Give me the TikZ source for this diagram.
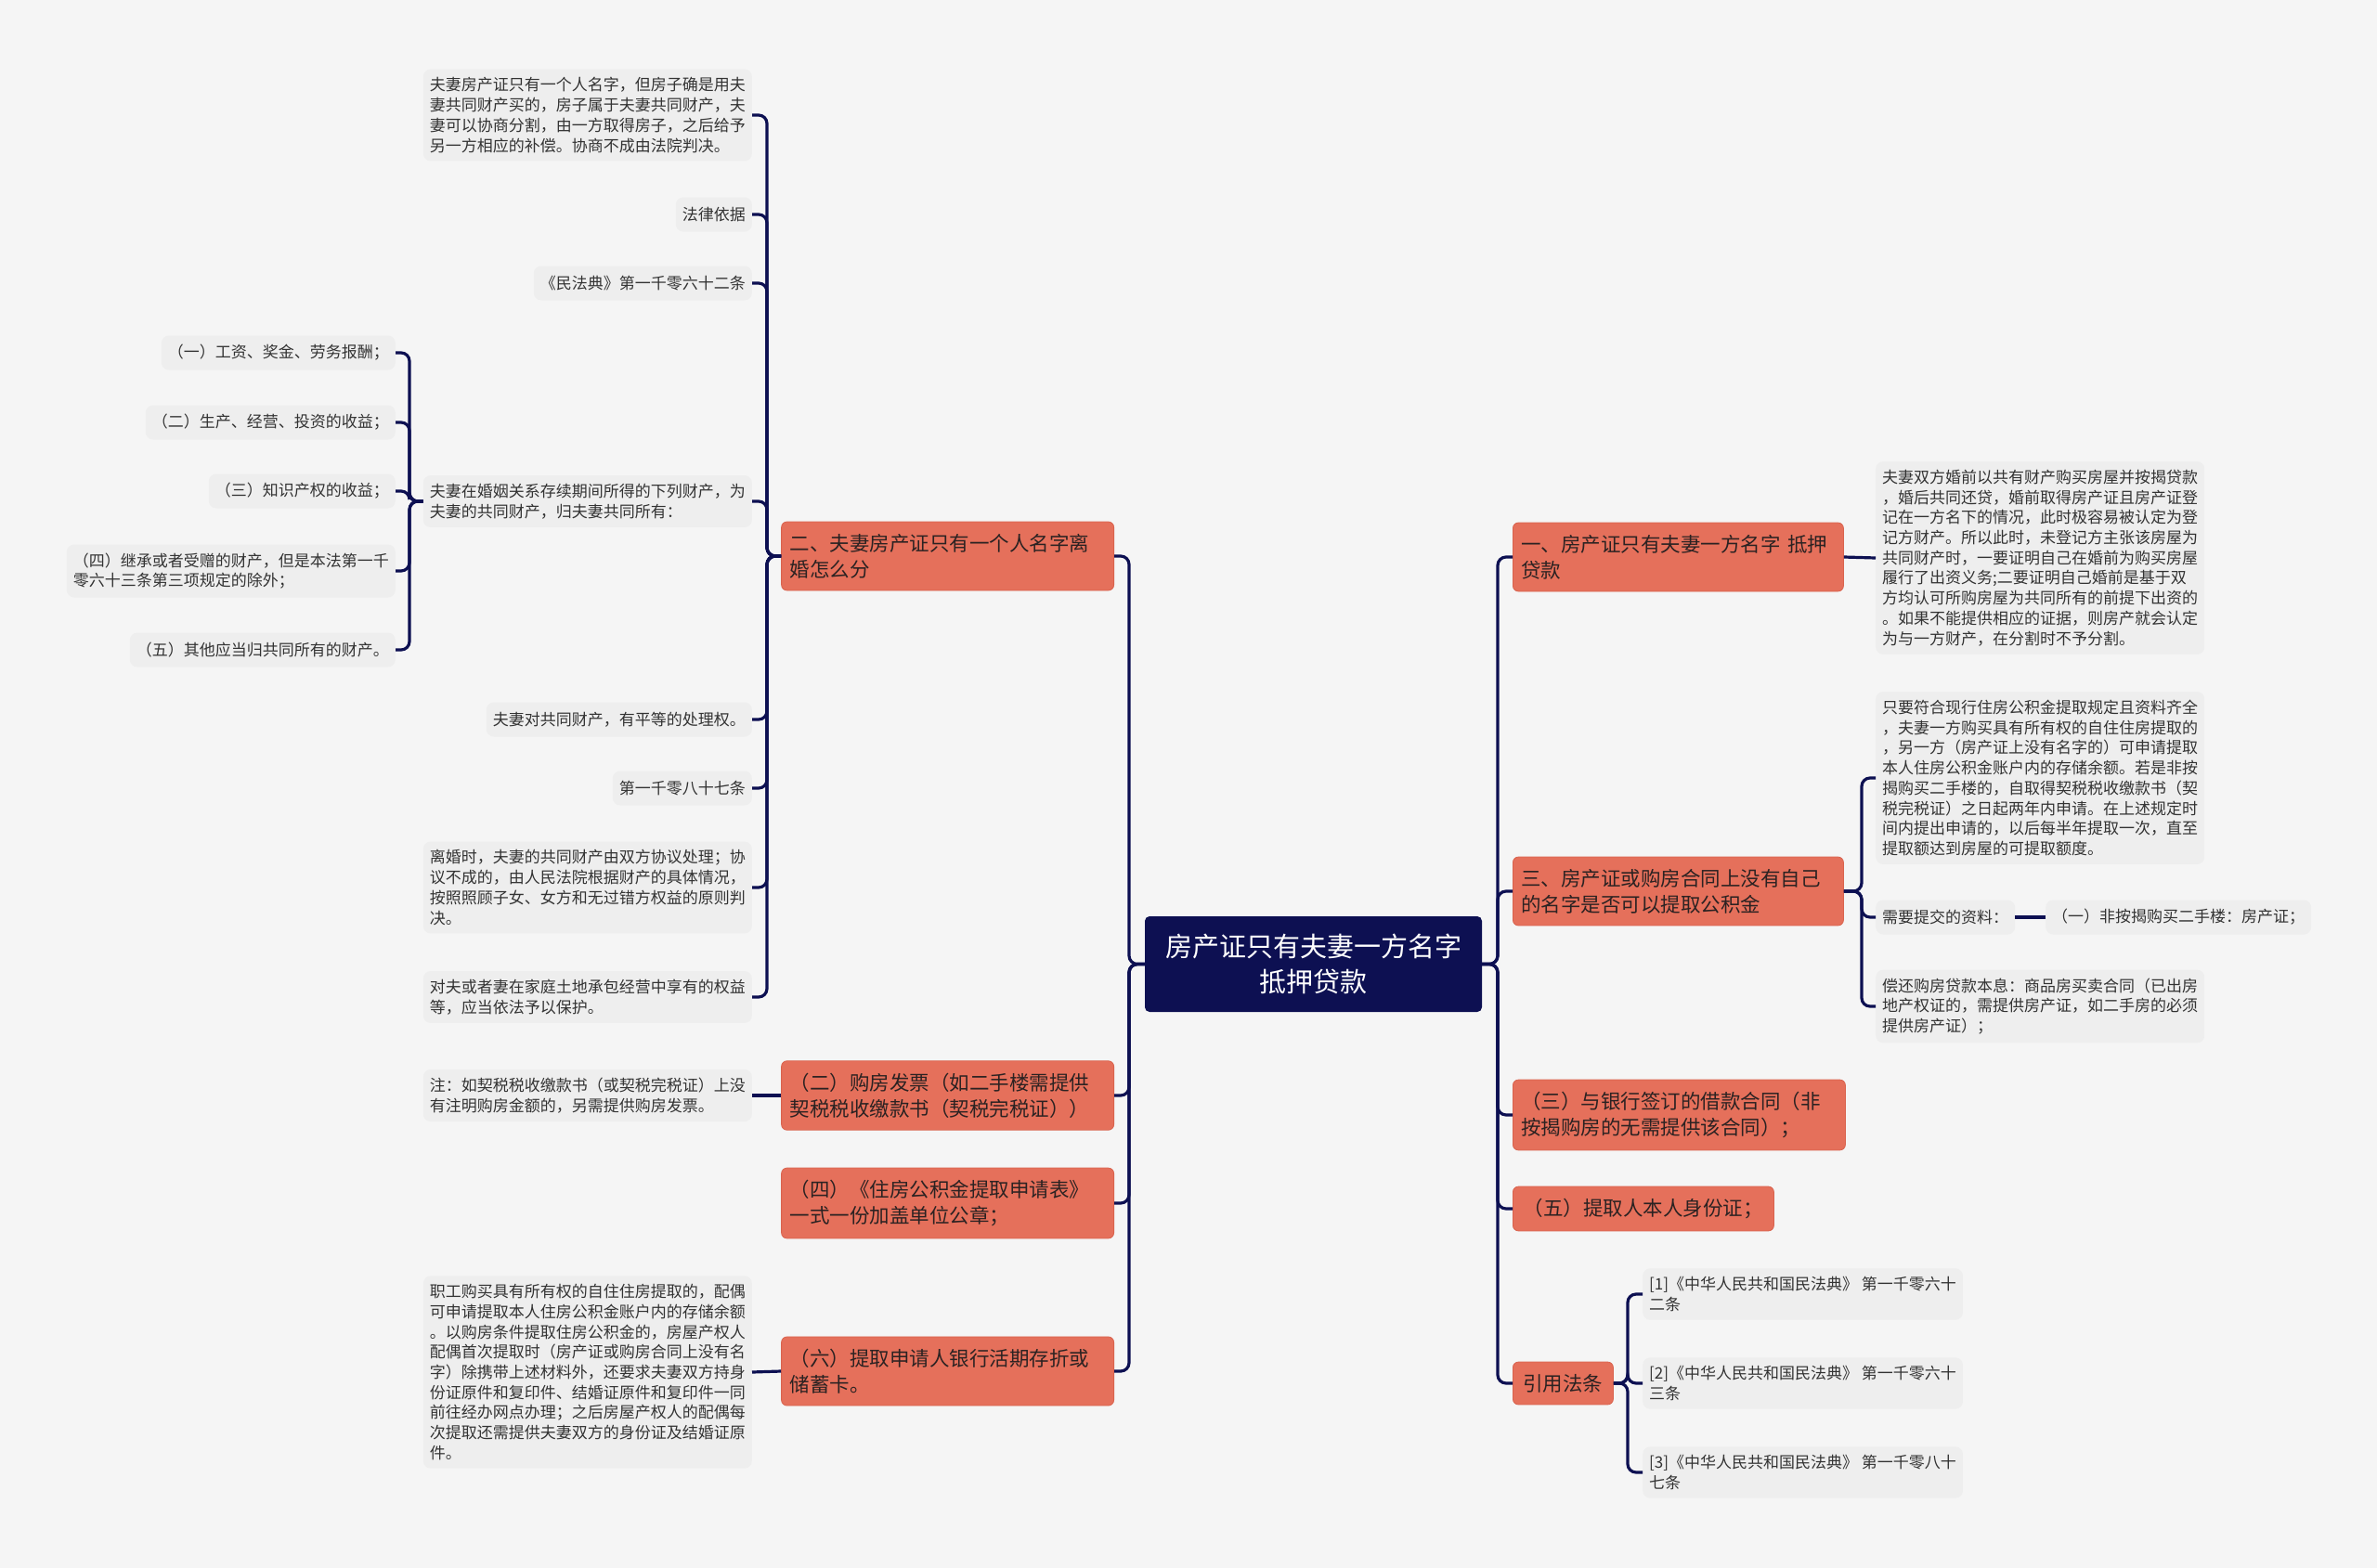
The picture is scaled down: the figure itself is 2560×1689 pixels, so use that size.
\documentclass[tikz,border=0pt]{standalone}
\usepackage{fontspec}
\newfontfamily\cjk{Noto Sans CJK SC}
\definecolor{navy}{HTML}{0D1052}
\definecolor{bgc}{HTML}{F5F5F5}
\definecolor{leafc}{HTML}{EEEEEE}
\definecolor{orng}{HTML}{E5705B}
\definecolor{orngd}{HTML}{D9634E}
\definecolor{txtg}{HTML}{333333}
\definecolor{txtd}{HTML}{2B2222}
\tikzset{
  conn/.style={draw=navy, line width=3.2pt, rounded corners=9pt},
  rootbox/.style={fill=navy, rounded corners=5pt, text=white, font={\cjk\fontsize{29}{38}\selectfont}, align=center, inner sep=0pt, minimum width=363pt, minimum height=103pt},
  branch/.style={fill=orng, draw=orngd, line width=0.8pt, rounded corners=6pt, font={\cjk\fontsize{21.5}{28}\selectfont}, text=txtd, align=left, inner xsep=9pt, inner ysep=13pt},
  branchw/.style={branch, text width=340pt},
  leaf/.style={fill=leafc, rounded corners=8pt, font={\cjk\fontsize{17}{21.7}\selectfont}, text=txtg, align=left, inner xsep=7pt, inner ysep=9pt, minimum height=37pt},
}
\begin{document}
\begin{tikzpicture}[x=1pt,y=-1pt]
\useasboundingbox (0,0) rectangle (2560,1689);
\fill[bgc] (0,0) rectangle (2560,1689);

% trunk coordinates
\coordinate (tL) at (1216,0);
\coordinate (tL1) at (826,0);
\coordinate (tA4) at (441,0);
\coordinate (tR) at (1613,0);
\coordinate (tR2) at (2005,0);
\coordinate (tR5) at (1753,0);

% root
\node[rootbox] (root) at (1414.5,1038.5) {房产证只有夫妻一方名字\\抵押贷款};

% left branches
\node[branchw, anchor=east] (L1) at (1200,599) {二、夫妻房产证只有一个人名字离\\婚怎么分};
\node[branchw, anchor=east] (L2) at (1200,1180) {（二）购房发票（如二手楼需提供\\契税税收缴款书（契税完税证））};
\node[branchw, anchor=east] (L3) at (1200,1296) {（四）《住房公积金提取申请表》\\一式一份加盖单位公章；};
\node[branchw, anchor=east] (L4) at (1200,1477) {（六）提取申请人银行活期存折或\\储蓄卡。};

% right branches
\node[branch, text width=338pt, anchor=west] (R1) at (1629,600) {一、房产证只有夫妻一方名字 抵押\\贷款};
\node[branch, text width=338pt, anchor=west] (R2) at (1629,960) {三、房产证或购房合同上没有自己\\的名字是否可以提取公积金};
\node[branchw, anchor=west] (R3) at (1629,1201) {（三）与银行签订的借款合同（非\\按揭购房的无需提供该合同）；};
\node[branch, anchor=west, minimum width=281pt] (R4) at (1629,1302) {（五）提取人本人身份证；};
\node[branch, anchor=west, minimum width=108pt] (R5) at (1629,1490) {引用法条};

% L1 leaves
\node[leaf, anchor=east] (A1) at (810,124) {夫妻房产证只有一个人名字，但房子确是用夫\\妻共同财产买的，房子属于夫妻共同财产，夫\\妻可以协商分割，由一方取得房子，之后给予\\另一方相应的补偿。协商不成由法院判决。};
\node[leaf, anchor=east] (A2) at (810,231) {法律依据};
\node[leaf, anchor=east] (A3) at (810,305) {《民法典》第一千零六十二条};
\node[leaf, anchor=east] (A4) at (810,540) {夫妻在婚姻关系存续期间所得的下列财产，为\\夫妻的共同财产，归夫妻共同所有：};
\node[leaf, anchor=east] (A5) at (810,775) {夫妻对共同财产，有平等的处理权。};
\node[leaf, anchor=east] (A6) at (810,849) {第一千零八十七条};
\node[leaf, anchor=east] (A7) at (810,956) {离婚时，夫妻的共同财产由双方协议处理；协\\议不成的，由人民法院根据财产的具体情况，\\按照照顾子女、女方和无过错方权益的原则判\\决。};
\node[leaf, anchor=east] (A8) at (810,1074) {对夫或者妻在家庭土地承包经营中享有的权益\\等，应当依法予以保护。};

% A4 leaves
\node[leaf, anchor=east] (B1) at (426,380) {（一）工资、奖金、劳务报酬；};
\node[leaf, anchor=east] (B2) at (426,455) {（二）生产、经营、投资的收益；};
\node[leaf, anchor=east] (B3) at (426,529) {（三）知识产权的收益；};
\node[leaf, anchor=east] (B4) at (426,615) {（四）继承或者受赠的财产，但是本法第一千\\零六十三条第三项规定的除外；};
\node[leaf, anchor=east] (B5) at (426,700) {（五）其他应当归共同所有的财产。};

% L2, L4 leaves
\node[leaf, anchor=east] (E1) at (810,1180) {注：如契税税收缴款书（或契税完税证）上没\\有注明购房金额的，另需提供购房发票。};
\node[leaf, anchor=east] (E2) at (810,1478) {职工购买具有所有权的自住住房提取的，配偶\\可申请提取本人住房公积金账户内的存储余额\\。以购房条件提取住房公积金的，房屋产权人\\配偶首次提取时（房产证或购房合同上没有名\\字）除携带上述材料外，还要求夫妻双方持身\\份证原件和复印件、结婚证原件和复印件一同\\前往经办网点办理；之后房屋产权人的配偶每\\次提取还需提供夫妻双方的身份证及结婚证原\\件。};

% R1 leaf
\node[leaf, anchor=west] (F1) at (2020,601) {夫妻双方婚前以共有财产购买房屋并按揭贷款\\，婚后共同还贷，婚前取得房产证且房产证登\\记在一方名下的情况，此时极容易被认定为登\\记方财产。所以此时，未登记方主张该房屋为\\共同财产时，一要证明自己在婚前为购买房屋\\履行了出资义务;二要证明自己婚前是基于双\\方均认可所购房屋为共同所有的前提下出资的\\。如果不能提供相应的证据，则房产就会认定\\为与一方财产，在分割时不予分割。};

% R2 leaves
\node[leaf, anchor=west] (C1) at (2020,838) {只要符合现行住房公积金提取规定且资料齐全\\，夫妻一方购买具有所有权的自住住房提取的\\，另一方（房产证上没有名字的）可申请提取\\本人住房公积金账户内的存储余额。若是非按\\揭购买二手楼的，自取得契税税收缴款书（契\\税完税证）之日起两年内申请。在上述规定时\\间内提出申请的，以后每半年提取一次，直至\\提取额达到房屋的可提取额度。};
\node[leaf, anchor=west] (C2) at (2020,988) {需要提交的资料：};
\node[leaf, anchor=west] (C3) at (2203,988) {（一）非按揭购买二手楼：房产证；};
\node[leaf, anchor=west] (C4) at (2020,1084) {偿还购房贷款本息：商品房买卖合同（已出房\\地产权证的，需提供房产证，如二手房的必须\\提供房产证）；};

% R5 leaves
\node[leaf, anchor=west] (D1) at (1769,1394) {[1]《中华人民共和国民法典》 第一千零六十\\二条};
\node[leaf, anchor=west] (D2) at (1769,1490) {[2]《中华人民共和国民法典》 第一千零六十\\三条};
\node[leaf, anchor=west] (D3) at (1769,1586) {[3]《中华人民共和国民法典》 第一千零八十\\七条};

% connectors root -> left
\foreach \c in {L1,L2,L3,L4}
  \draw[conn] (root.west) -- (root.west -| tL) |- (\c.east);
% root -> right
\foreach \c in {R1,R2,R3,R4,R5}
  \draw[conn] (root.east) -- (root.east -| tR) |- (\c.west);
% L1 -> leaves
\foreach \c in {A1,A2,A3,A4,A5,A6,A7,A8}
  \draw[conn] (L1.west) -- (L1.west -| tL1) |- (\c.east);
% A4 -> leaves
\foreach \c in {B1,B2,B3,B4,B5}
  \draw[conn] (A4.west) -- (A4.west -| tA4) |- (\c.east);
\draw[conn] (L2.west) -- (E1.east);
\draw[conn] (L4.west) -- (E2.east);
\draw[conn] (R1.east) -- (F1.west);
\foreach \c in {C1,C2,C4}
  \draw[conn] (R2.east) -- (R2.east -| tR2) |- (\c.west);
\draw[conn] (C2.east) -- (C3.west);
\foreach \c in {D1,D2,D3}
  \draw[conn] (R5.east) -- (R5.east -| tR5) |- (\c.west);
\end{tikzpicture}
\end{document}
